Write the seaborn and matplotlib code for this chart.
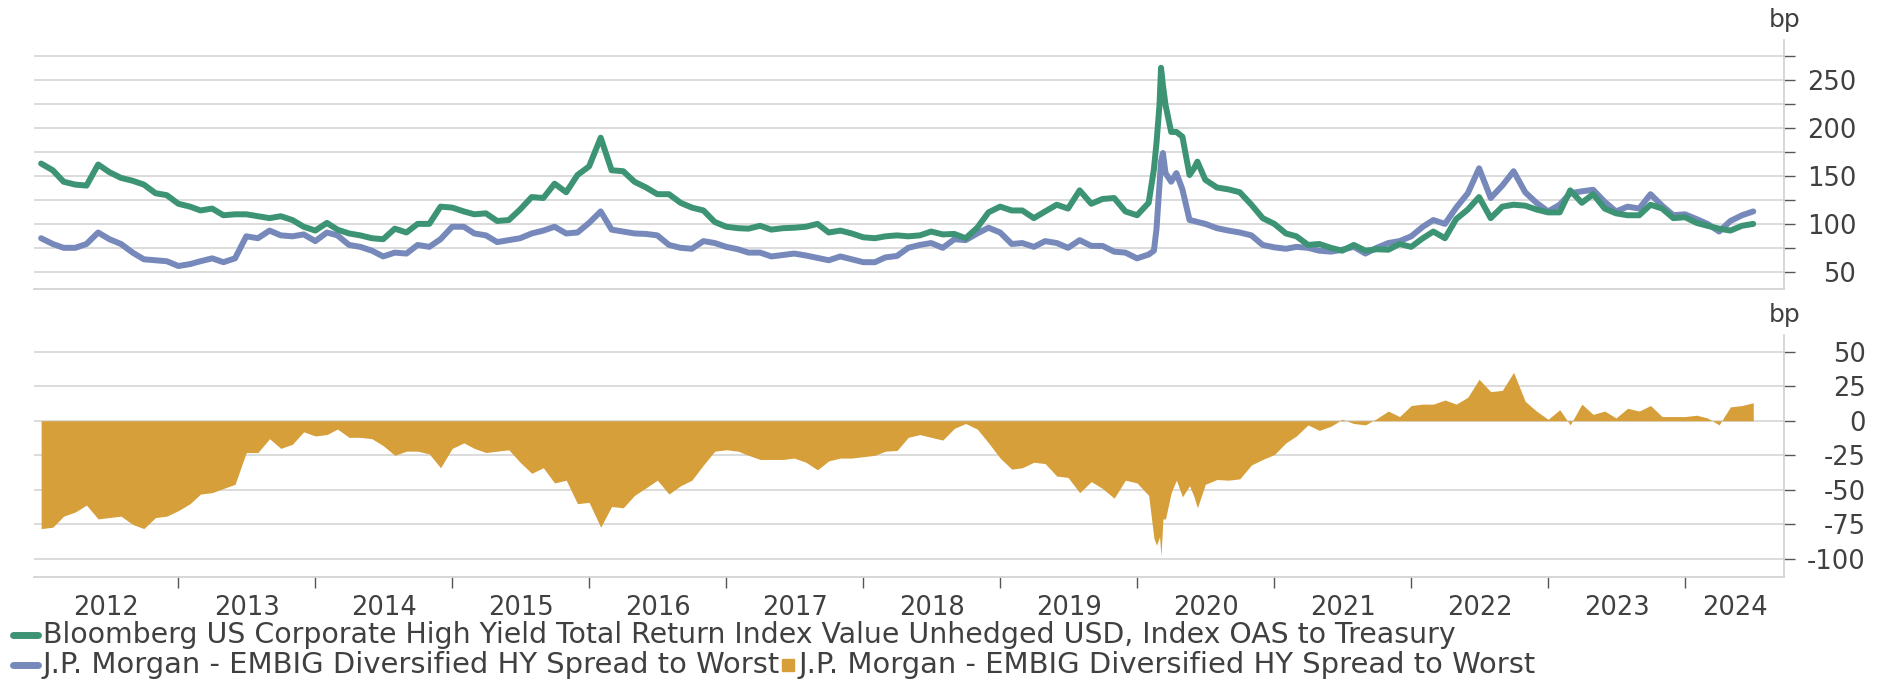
import numpy as np
import pandas as pd
import matplotlib
matplotlib.use("Agg")
import matplotlib.pyplot as plt
import matplotlib.dates as mdates
from matplotlib.ticker import FixedLocator, NullFormatter, FixedFormatter
from matplotlib.lines import Line2D
from matplotlib.patches import Rectangle
import seaborn as sns

# names of the series
hy_name = "Bloomberg US Corporate High Yield Total Return Index Value Unhedged USD, Index OAS to Treasury"
em_name = "J.P. Morgan - EMBIG Diversified HY Spread to Worst"

# monthly readings, Jan 2012 .. Jul 2024 (bp)
month_start = "2012-01-01"
hy_monthly = [
    163, 156, 144, 141, 140, 162, 154, 148, 145, 141, 132, 130,
    121, 118, 114, 116, 109, 110, 110, 108, 106, 108, 104, 97,
    93, 101, 94, 90, 88, 85, 84, 95, 91, 100, 100, 118,
    117, 113, 110, 111, 103, 104, 115, 128, 127, 142, 133, 151,
    160, 190, 156, 155, 144, 138, 131, 131, 122, 117, 114, 102,
    97, 95.5, 95, 98, 94, 95.5, 96, 97, 100, 91, 93, 90,
    86, 85, 87, 88, 87, 88, 92, 89, 89.5, 85, 96, 112,
    118, 114, 114, 106, 113, 120, 116, 135, 121, 126, 127, 113,
    109, 122, 225, 196, 191, 158, 146, 138, 136, 133, 120, 106,
    100, 90, 87, 78, 79, 75, 72, 78, 72, 73.5, 73, 79,
    76, 85, 92, 85, 105, 115, 128, 106, 118, 120, 119, 115,
    112, 112, 135, 122, 131, 116, 111, 109, 109, 120, 116, 106,
    107, 101, 98, 95, 93, 98, 100,
]
em_monthly = [
    85, 79, 75, 75, 79, 91, 84, 79, 70, 63, 62, 61,
    56, 58, 61, 64, 60, 64, 87, 85, 93, 88, 87, 89,
    82, 91, 88, 78, 76, 72, 66, 70, 69, 78, 76, 84,
    97, 97, 90, 88, 81, 83, 85, 90, 93, 97, 90, 91,
    101, 113, 94, 92, 90, 89.5, 88, 78, 75, 74, 82, 80,
    76, 73.5, 70, 70, 66, 67.5, 69, 67, 64.5, 62, 66, 63,
    60, 60, 65, 66.5, 75, 78, 80, 75, 84, 83, 90, 96,
    91, 79, 80, 76, 82, 80, 75, 83, 77, 77, 71, 70,
    64, 68, 141, 144, 136, 103, 100, 95.5, 93, 91, 88, 78,
    75.5, 74, 76, 75, 72, 71, 73, 76, 69, 75, 80, 82,
    87, 97, 104, 100, 117, 132, 158, 127, 140, 155, 133, 122,
    113, 120, 132, 134, 135.6, 123, 113, 118, 116, 131, 119, 109,
    110, 105, 100, 92, 103, 109, 113,
]

# extra readings around the March 2020 spike
spike_dates = ["2020-02-15", "2020-02-22", "2020-03-05", "2020-03-10", "2020-03-17",
               "2020-04-15", "2020-05-20", "2020-06-10"]
hy_spike = [157, 185, 263, 245, 224, 196, 151, 165]
em_spike = [72, 95, 165, 174, 153, 153, 104, 102]

GREEN = "#3d9474"
BLUE = "#7689ba"
ORANGE = "#d69f3a"
TEXT = "#404040"
GRID = "#d6d6d6"

W, H = 1883, 680

monthly = pd.DataFrame({"date": pd.date_range(month_start, periods=len(hy_monthly), freq="MS"),
                        hy_name: hy_monthly, em_name: em_monthly})
extra = pd.DataFrame({"date": pd.to_datetime(spike_dates), hy_name: hy_spike, em_name: em_spike})
df = pd.concat([monthly, extra]).sort_values("date").reset_index(drop=True)
df["diff"] = df[em_name] - df[hy_name]
long = df.melt(id_vars="date", value_vars=[em_name, hy_name], var_name="series", value_name="bp")

sns.set_theme(style="white")
plt.rcParams["font.family"] = ["DejaVu Sans"]
plt.rcParams["axes.unicode_minus"] = False
plt.rcParams["text.color"] = TEXT

fig = plt.figure(figsize=(W / 100, H / 100), dpi=100)
left, right = 34 / W, 1784 / W
ax1 = fig.add_axes([left, 1 - 289 / H, right - left, (289 - 40) / H])
ax2 = fig.add_axes([left, 1 - 577 / H, right - left, (577 - 335) / H], sharex=ax1)

sns.lineplot(data=long, x="date", y="bp", hue="series", hue_order=[em_name, hy_name],
             palette=[BLUE, GREEN], linewidth=4.3, ax=ax1, legend=False)
ax2.fill_between(df["date"], df["diff"], 0, color=ORANGE, linewidth=0)

x0, x1 = pd.Timestamp("2011-12-13"), pd.Timestamp("2024-09-21")
ax1.set_xlim(x0, x1)
ax1.set_ylim(32, 292)
ax2.set_ylim(-113, 62)

for ax, ticks, labels, pad in [
    (ax1, np.arange(50, 276, 25), [str(v) if v % 50 == 0 else "" for v in np.arange(50, 276, 25)], 44),
    (ax2, np.arange(-100, 51, 25), [str(v) for v in np.arange(-100, 51, 25)], 51),
]:
    ax.set_xlabel("")
    ax.set_ylabel("")
    ax.yaxis.tick_right()
    ax.set_yticks(ticks)
    ax.set_yticklabels(labels, ha="right")
    ax.tick_params(axis="y", right=True, length=8, width=1.0, color="#555555",
                   labelsize=18.5, labelcolor=TEXT, pad=pad)
    ax.grid(axis="y", color=GRID, linewidth=1.2)
    ax.set_axisbelow(True)
    for s in ["left", "top"]:
        ax.spines[s].set_visible(False)
    for s in ["right", "bottom"]:
        ax.spines[s].set_color("#cfcfcf")
        ax.spines[s].set_linewidth(1.2)

# year boundaries as ticks, year names centred in each visible span
bounds = [pd.Timestamp(f"{y}-01-01") for y in range(2013, 2025)]
edges = [x0] + bounds + [x1]
centres = [mdates.date2num(a) / 2 + mdates.date2num(b) / 2 for a, b in zip(edges[:-1], edges[1:])]
ax2.xaxis.set_major_locator(FixedLocator(mdates.date2num(bounds)))
ax2.xaxis.set_major_formatter(NullFormatter())
ax2.xaxis.set_minor_locator(FixedLocator(centres))
ax2.xaxis.set_minor_formatter(FixedFormatter([str(y) for y in range(2012, 2025)]))
ax2.tick_params(axis="x", which="major", bottom=True, length=8, width=1.0, color="#555555")
ax2.tick_params(axis="x", which="minor", bottom=True, length=0, pad=13, labelsize=18.5, labelcolor=TEXT)
ax1.tick_params(axis="x", which="both", bottom=False, labelbottom=False)

fig.text(1785 / W, 1 - 20 / H, "bp", ha="center", va="center", fontsize=18, color=TEXT)
fig.text(1785 / W, 1 - 315 / H, "bp", ha="center", va="center", fontsize=18, color=TEXT)

# legend
fs1, fs2 = 20.45, 20.9
r1, r2 = 1 - 635 / H, 1 - 665 / H
fig.add_artist(Line2D([13 / W, 38 / W], [r1, r1], color=GREEN, lw=5, transform=fig.transFigure))
fig.text(43 / W, r1, hy_name, ha="left", va="center", fontsize=fs1, color=TEXT)
fig.add_artist(Line2D([13 / W, 38 / W], [r2, r2], color=BLUE, lw=5, transform=fig.transFigure))
t2 = fig.text(43 / W, r2, em_name, ha="left", va="center", fontsize=fs2, color=TEXT)
fig.canvas.draw()
bb = t2.get_window_extent()
sq = 12
fig.add_artist(Rectangle(((bb.x1 + 2) / W, r2 - sq / 2 / H), sq / W, sq / H,
                         color=ORANGE, transform=fig.transFigure))
fig.text((bb.x1 + 2 + sq + 4) / W, r2, em_name, ha="left", va="center", fontsize=fs2, color=TEXT)

fig.savefig("out.png", dpi=100)
